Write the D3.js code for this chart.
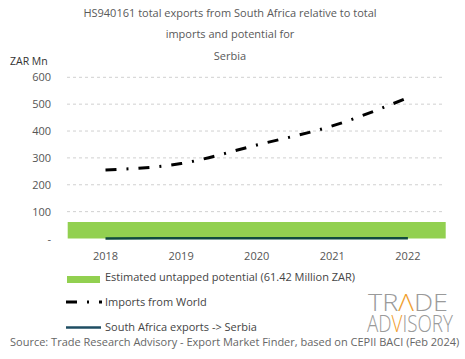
<!DOCTYPE html>
<html><head><meta charset="utf-8">
<script src="https://cdn.jsdelivr.net/npm/d3@7"></script>
<style>body{margin:0;background:#fff}svg{display:block}text{font-family:"Open Sans",sans-serif}</style>
</head><body><div id="chart"></div>
<script>
const years = ["2018","2019","2020","2021","2022"];
const importsWorld = [255, 279, 348, 419, 524];
const saExports = [0.4, 0.6, 0.5, 0.7, 0.6];
const potential = [61.42];
const yTicks = [0, 100, 200, 300, 400, 500, 600];
const titleLines = ["HS940161 total exports from South Africa relative to total", "imports and potential for", "Serbia"];
const legendLabels = ["Estimated untapped potential (61.42 Million ZAR)", "Imports from World", "South Africa exports -> Serbia"];

const W = 465, H = 359;
const svg = d3.select("#chart").append("svg").attr("width", W).attr("height", H);
const x = d3.scaleBand().domain(years).range([67.7, 445.7]);
const y = d3.scaleLinear().domain([0, 600]).range([238.5, 77.3]);

// title
svg.append("g").selectAll("text").data(titleLines).join("text")
  .attr("x", 230).attr("y", (d, i) => [17, 38, 60][i])
  .attr("text-anchor", "middle").attr("fill", "#595959").attr("font-size", 11).text(d => d);

svg.append("text").attr("x", 10).attr("y", 65).attr("fill", "#333").attr("font-size", 10.5).text("ZAR Mn");

// gridlines
svg.append("g").selectAll("line").data(yTicks.filter(d => d > 0)).join("line")
  .attr("x1", 67).attr("x2", 443).attr("y1", d => y(d)).attr("y2", d => y(d))
  .attr("stroke", "#d0d0d0").attr("stroke-dasharray", "3,3").attr("stroke-width", 1);

// y axis labels
const yAxis = d3.axisLeft(y).tickValues(yTicks).tickSize(0).tickPadding(0)
  .tickFormat(d => d === 0 ? "-" : d3.format(",")(d));
const yg = svg.append("g").attr("transform", "translate(51,0)").call(yAxis);
yg.select(".domain").remove();
yg.selectAll("text").attr("fill", "#555").attr("font-size", 11).attr("font-family", "Open Sans");

// potential bar
svg.append("g").selectAll("rect").data(potential).join("rect")
  .attr("x", x.range()[0]).attr("width", x.range()[1] - x.range()[0])
  .attr("y", d => y(d)).attr("height", d => y(0) - y(d)).attr("fill", "#92d050");

// x axis
const xAxis = d3.axisBottom(x).tickSize(0).tickPadding(0);
const xg = svg.append("g").attr("transform", "translate(0,252)").call(xAxis);
xg.select(".domain").remove();
xg.selectAll("text").attr("fill", "#555").attr("font-size", 11).attr("font-family", "Open Sans");

const line = d3.line().x((d, i) => x(years[i]) + x.bandwidth() / 2).y(d => y(d)).curve(d3.curveMonotoneX);

svg.append("path").datum(saExports).attr("d", line).attr("fill", "none")
  .attr("stroke", "#0f4a3e").attr("stroke-width", 2.5);

svg.append("path").datum(importsWorld).attr("d", line).attr("fill", "none")
  .attr("stroke", "#000").attr("stroke-width", 3).attr("stroke-dasharray", "11,10,2,10");

// legend
const lg = svg.append("g");
lg.append("rect").attr("x", 67).attr("y", 276).attr("width", 33).attr("height", 7).attr("fill", "#92d050");
lg.append("line").attr("x1", 66).attr("x2", 102).attr("y1", 302).attr("y2", 302)
  .attr("stroke", "#000").attr("stroke-width", 3).attr("stroke-dasharray", "11,10,2,10");
lg.append("line").attr("x1", 66).attr("x2", 101).attr("y1", 327.5).attr("y2", 327.5)
  .attr("stroke", "#1f4e63").attr("stroke-width", 2.5);
lg.selectAll("text").data(legendLabels).join("text")
  .attr("x", 105).attr("y", (d, i) => [281, 306, 331][i])
  .attr("fill", "#444").attr("font-size", 11).text(d => d);

// source
svg.append("text").attr("x", 10).attr("y", 346).attr("fill", "#666").attr("font-size", 11)
  .text("Source: Trade Research Advisory - Export Market Finder, based on CEPII BACI (Feb 2024)");

// logo
function logoLine(parts, x0, y0, target) {
  const g = svg.append("g").attr("transform", `translate(${x0},${y0})`);
  const t = g.append("text").attr("x", 0).attr("y", 0).attr("font-weight", 300)
    .attr("fill", "#9a9a9a").attr("font-size", 24);
  parts.forEach(p => t.append("tspan").attr("fill", p[1] ? "#f0a030" : null).text(p[0]));
  const w = t.node().getComputedTextLength();
  g.attr("transform", `translate(${x0},${y0}) scale(${target / w},1)`);
}
logoLine([["TR"], ["Λ", 1], ["DE"]], 368, 311, 80);
logoLine([["AD"], ["V", 1], ["ISORY"]], 367, 332, 86);
</script></body></html>
